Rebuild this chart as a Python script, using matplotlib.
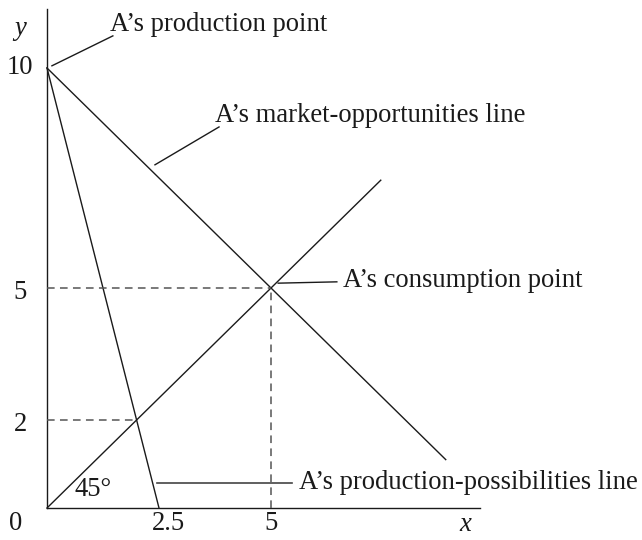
import matplotlib
matplotlib.use("Agg")
import matplotlib.pyplot as plt

# ---- data ----
ppl_x = [0, 2.5]            # production-possibilities line
ppl_y = [10, 0]
market_x = [0, 8.9]         # market-opportunities line
market_y = [10, 1.1]
diag_x = [0, 7.45]          # 45 degree line
diag_y = [0, 7.45]
consumption = (5, 5)
ppl_diag = (2, 2)
x_tick_vals = [0, 2.5, 5]
x_tick_labels = ["0", "2.5", "5"]
y_tick_vals = [2, 5, 10]
y_tick_labels = ["2", "5", "10"]
x_axis_end = 9.67
y_axis_end = 11.34

plt.rcParams['font.family'] = ['Liberation Serif', 'DejaVu Serif']
FS = 19.2

fig = plt.figure(figsize=(6.42, 5.40), dpi=100)
ax = fig.add_axes([0, 0, 1, 1])
ax.set_xlim(-47 / 44.8, (642 - 47) / 44.8)
ax.set_ylim((508 - 540) / 44.0, 508 / 44.0)
ax.axis('off')

lw = 1.0
c = '#1a1a1a'
# axes
ax.plot([0, 0], [0, y_axis_end], color=c, lw=lw)
ax.plot([0, x_axis_end], [0, 0], color=c, lw=lw)

# lines
ax.plot(ppl_x, ppl_y, color=c, lw=lw)
ax.plot(market_x, market_y, color=c, lw=lw)
ax.plot(diag_x, diag_y, color=c, lw=lw)

# dashed guides
dash = dict(color='#555555', lw=1.1, linestyle=(0, (5, 3.5)))
ax.plot([0, consumption[0]], [consumption[1], consumption[1]], **dash)
ax.plot([consumption[0], consumption[0]], [0, consumption[1]], **dash)
ax.plot([0, ppl_diag[0]], [ppl_diag[1], ppl_diag[1]], **dash)

# labels with leader lines
ax.plot([0.11, 1.47], [10.05, 10.73], color=c, lw=lw)
ax.text(1.41, 10.98, "A\u2019s production point", fontsize=FS, va='center', ha='left', color=c)

ax.plot([2.41, 3.84], [7.80, 8.66], color=c, lw=lw)
ax.text(3.75, 8.93, "A\u2019s market-opportunities line", fontsize=FS, va='center', ha='left', color=c)

ax.plot([5.16, 6.47], [5.11, 5.14], color=c, lw=lw)
ax.text(6.61, 5.16, "A\u2019s consumption point", fontsize=FS, va='center', ha='left', color=c)

ax.plot([2.46, 5.47], [0.56, 0.56], color='#444444', lw=1.2)
ax.text(5.63, 0.57, "A\u2019s production-possibilities line", fontsize=FS, va='center', ha='left', color=c)

ax.text(1.03, 0.41, "45\u00b0", fontsize=FS, va='center', ha='center', color=c)

# tick labels
for v, t in zip(x_tick_vals, x_tick_labels):
    xx = -0.69 if v == 0 else v + (0.2 if v == 2.5 else 0)
    ax.text(xx, -0.36, t, fontsize=FS, ha='center', va='center', color=c)
for v, t in zip(y_tick_vals, y_tick_labels):
    ax.text(-0.6, v - (0.1 if v != 10 else 0), t, fontsize=FS, ha='center', va='center', color=c)

ax.text(9.33, -0.38, "x", fontsize=FS, ha='center', va='center', style='italic', color=c)
ax.text(-0.6, 10.9, "y", fontsize=FS, ha='center', va='center', style='italic', color=c)

fig.savefig("out.png", dpi=100)
